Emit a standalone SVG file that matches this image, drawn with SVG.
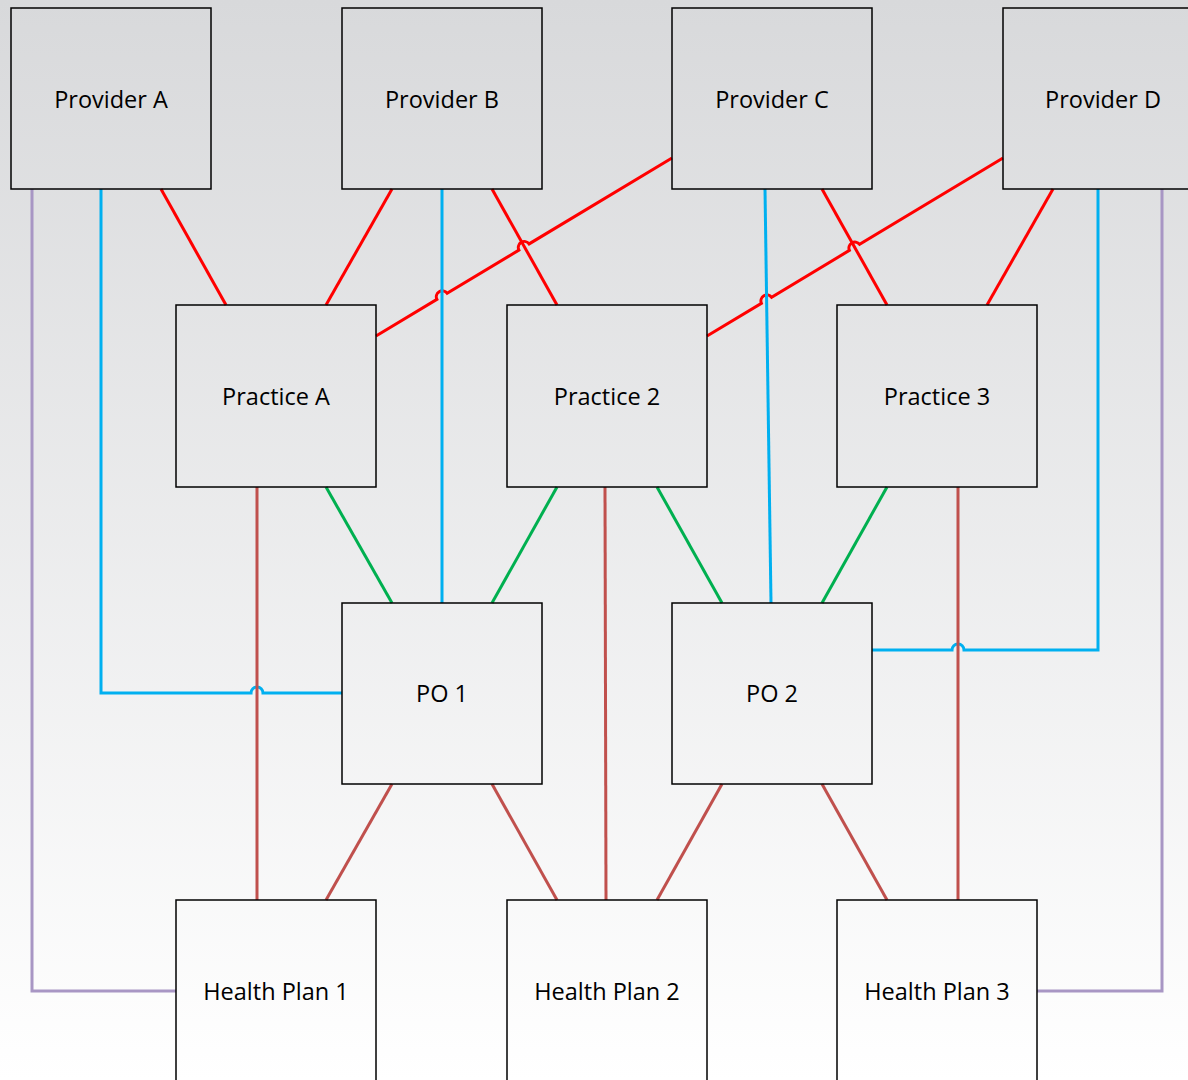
<svg xmlns="http://www.w3.org/2000/svg" width="1188" height="1080" viewBox="0 0 1188 1080">
<defs>
<linearGradient id="bg" x1="0" y1="0" x2="0" y2="1">
<stop offset="0" stop-color="#d8d9db"/>
<stop offset="1" stop-color="#ffffff"/>
</linearGradient>
</defs>
<style>
.box{fill:none;stroke:#000;stroke-width:1.5}
.lbl{font-family:"Open Sans","Liberation Sans",sans-serif;font-size:23.5px;fill:#000;text-anchor:middle;dominant-baseline:central}
.c{fill:none;stroke-width:3}
.red{stroke:#ff0000}
.blue{stroke:#00b0f0}
.green{stroke:#00b050}
.brown{stroke:#c0504d}
.purple{stroke:#a896c4}
</style>
<rect width="1188" height="1080" fill="url(#bg)"/>
<g id="connectors">
<line class="c red" x1="161" y1="189" x2="226" y2="305"/>
<line class="c red" x1="392" y1="189" x2="326" y2="305"/>
<line class="c red" x1="492" y1="189" x2="557" y2="305"/>
<line class="c red" x1="822" y1="189" x2="887" y2="305"/>
<line class="c red" x1="1053" y1="189" x2="987" y2="305"/>
<path class="c red" d="M376,336 L436.9,299.4 A6,6 0 0 1 447.1,293.2 L518.9,250.1 A6,6 0 0 1 529.1,243.9 L672,158"/>
<path class="c red" d="M707,336 L761.4,303.3 A6,6 0 0 1 771.6,297.2 L849.4,250.4 A6,6 0 0 1 859.6,244.3 L1003,158"/>
<path class="c blue" d="M101,189 L101,693 L251,693 A6,6 0 0 1 263,693 L342,693"/>
<line class="c blue" x1="442" y1="189" x2="442" y2="603"/>
<line class="c blue" x1="765" y1="189" x2="771" y2="603"/>
<path class="c blue" d="M1098,189 L1098,650 L964,650 A6,6 0 0 0 952,650 L872,650"/>
<line class="c green" x1="326" y1="487" x2="392" y2="603"/>
<line class="c green" x1="557" y1="487" x2="492" y2="603"/>
<line class="c green" x1="657" y1="487" x2="722" y2="603"/>
<line class="c green" x1="887" y1="487" x2="822" y2="603"/>
<line class="c brown" x1="257" y1="487" x2="257" y2="900"/>
<line class="c brown" x1="605" y1="487" x2="606" y2="900"/>
<line class="c brown" x1="958" y1="487" x2="958" y2="900"/>
<line class="c brown" x1="392" y1="784" x2="326" y2="900"/>
<line class="c brown" x1="492" y1="784" x2="557" y2="900"/>
<line class="c brown" x1="722" y1="784" x2="657" y2="900"/>
<line class="c brown" x1="822" y1="784" x2="887" y2="900"/>
<path class="c purple" d="M32,189 L32,991 L176,991"/>
<path class="c purple" d="M1162,189 L1162,991 L1037,991"/>
</g>
<g id="provider-a"><rect class="box" x="11" y="8" width="200" height="181"/><text class="lbl" x="111" y="99">Provider A</text></g>
<g id="provider-b"><rect class="box" x="342" y="8" width="200" height="181"/><text class="lbl" x="442" y="99">Provider B</text></g>
<g id="provider-c"><rect class="box" x="672" y="8" width="200" height="181"/><text class="lbl" x="772" y="99">Provider C</text></g>
<g id="provider-d"><rect class="box" x="1003" y="8" width="200" height="181"/><text class="lbl" x="1103" y="99">Provider D</text></g>
<g id="practice-a"><rect class="box" x="176" y="305" width="200" height="182"/><text class="lbl" x="276" y="396">Practice A</text></g>
<g id="practice-2"><rect class="box" x="507" y="305" width="200" height="182"/><text class="lbl" x="607" y="396">Practice 2</text></g>
<g id="practice-3"><rect class="box" x="837" y="305" width="200" height="182"/><text class="lbl" x="937" y="396">Practice 3</text></g>
<g id="po-1"><rect class="box" x="342" y="603" width="200" height="181"/><text class="lbl" x="442" y="693">PO 1</text></g>
<g id="po-2"><rect class="box" x="672" y="603" width="200" height="181"/><text class="lbl" x="772" y="693">PO 2</text></g>
<g id="health-plan-1"><rect class="box" x="176" y="900" width="200" height="190"/><text class="lbl" x="276" y="991">Health Plan 1</text></g>
<g id="health-plan-2"><rect class="box" x="507" y="900" width="200" height="190"/><text class="lbl" x="607" y="991">Health Plan 2</text></g>
<g id="health-plan-3"><rect class="box" x="837" y="900" width="200" height="190"/><text class="lbl" x="937" y="991">Health Plan 3</text></g>
</svg>
